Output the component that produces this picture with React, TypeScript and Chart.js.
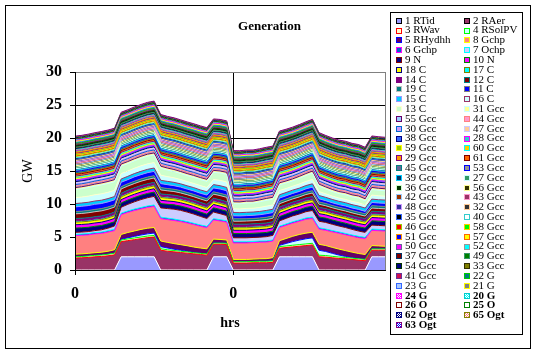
import React, { useEffect, useRef } from 'react';
import { Chart, registerables } from 'chart.js';

Chart.register(...registerables);

// ---------- data ----------
const HOURS = ['0','1','2','3','4','5','6','7','8','9','10','11','12','13','14','15','16','17','18','19','20','21','22','23',
  '0','1','2','3','4','5','6','7','8','9','10','11','12','13','14','15','16','17','18','19','20','21','22','23'];

const Y_MIN = 0;
const Y_MAX = 30;
const Y_STEP = 5;

const RTID = [0,0,0,0,0,0,0, 2,2,2,2,2,2, 0,0,0,0,0,0,0,0, 2,2,2, 0,0,0,0,0,0,0, 2,2,2,2,2,2, 0,0,0,0,0,0,0,0, 2,2,2];
const RAER = [1.8,1.85,1.9,2,2.05,2.15,2.3, 2.3,2.45,2.6,2.75,2.9,3, 3,2.85,2.75,2.65,2.55,2.45,2.35,2.25, 1.9,1.9,1.85, 1.05,1.05,1.05,1.1,1.1,1.1,1.15, 1.3,1.4,1.5,1.6,1.7,1.8, 2,1.95,1.85,1.75,1.7,1.6,1.5,1.4, 1,1,1];
const RWAV = [.2,.2,.22,.22,.22,.24,.24, .24,.25,.25,.25,.24,.24, .22,.22,.2,.2,.2,.18,.18,.18, .18,.18,.2, .2,.2,.2,.2,.22,.22,.22, .24,.24,.25,.25,.25,.25, .24,.24,.22,.22,.2,.2,.2,.2, .2,.2,.2];
const RSOLPV = [0,0,0,0,0,0,.03, .1,.18,.24,.3,.34,.35, .32,.27,.2,.14,.08,.03,0,0, 0,0,0, 0,0,0,0,0,0,.05, .2,.38,.55,.68,.78,.82, .75,.62,.46,.3,.16,.06,0,0, 0,0,0];
const RHYDHH = [.4,.4,.4,.4,.42,.45,.5, .75,.8,.82,.85,.85,.85, .85,.85,.85,.85,.85,.82,.8,.78, .6,.55,.5, .35,.35,.35,.35,.38,.4,.45, .7,.75,.8,.85,.85,.85, .9,.9,.9,.9,.88,.85,.8,.75, .5,.45,.4];
const GCHP8 = [2.8,2.8,2.8,2.85,2.85,2.9,2.9, 3,3.05,3.1,3.1,3.15,3.2, 3.4,3.45,3.5,3.5,3.45,3.4,3.3,3.2, 2.9,2.8,2.7, 2.5,2.5,2.5,2.5,2.5,2.5,2.5, 2,2,2,2,2.1,2.1, 2.3,2.3,2.35,2.4,2.4,2.4,2.4,2.4, 2.3,2.3,2.3];
const GCHP6 = [.2,.2,.2,.2,.2,.2,.2, .22,.22,.22,.22,.22,.22, .22,.22,.22,.2,.2,.2,.2,.2, .2,.2,.2, .18,.18,.18,.18,.18,.18,.18, .2,.2,.2,.2,.2,.2, .2,.2,.2,.2,.2,.2,.2,.2, .2,.2,.2];
const OCHP7 = [.3,.3,.3,.3,.35,.4,.5, .9,1,1.1,1.2,1.25,1.3, 1.4,1.45,1.5,1.5,1.45,1.4,1.3,1.2, 1,.9,.8, .6,.6,.6,.6,.6,.65,.7, .8,.85,.9,.9,.95,1, 1,1,.95,.9,.9,.85,.8,.75, .6,.6,.6];
const N9 = [.65,.65,.65,.65,.65,.65,.65, .65,.65,.65,.65,.65,.65, .65,.65,.65,.65,.65,.65,.65,.65, .65,.65,.65, .64,.64,.64,.64,.64,.64,.64, .65,.65,.65,.65,.65,.65, .65,.65,.65,.65,.65,.65,.65,.65, .65,.65,.65];
const N10 = [.5,.5,.5,.5,.5,.5,.5, .5,.5,.5,.5,.5,.5, .5,.5,.5,.5,.5,.5,.5,.5, .5,.5,.5, .5,.5,.5,.5,.5,.5,.5, .5,.5,.5,.5,.5,.5, .5,.5,.5,.5,.5,.5,.5,.5, .5,.5,.5];
const C18 = [.4,.4,.4,.4,.4,.4,.4, .42,.42,.42,.42,.42,.42, .42,.42,.42,.42,.42,.42,.42,.42, .4,.4,.4, .38,.38,.38,.38,.38,.38,.38, .4,.4,.4,.4,.4,.4, .4,.4,.4,.4,.4,.4,.4,.4, .4,.4,.4];
const C17 = [.2,.2,.2,.2,.2,.2,.2, .2,.2,.2,.2,.2,.2, .2,.2,.2,.2,.2,.2,.2,.2, .2,.2,.2, .2,.2,.2,.2,.2,.2,.2, .2,.2,.2,.2,.2,.2, .2,.2,.2,.2,.2,.2,.2,.2, .2,.2,.2];
const C14 = [.35,.35,.35,.35,.35,.35,.35, .35,.35,.35,.35,.35,.35, .35,.35,.35,.35,.35,.35,.35,.35, .35,.35,.35, .35,.35,.35,.35,.35,.35,.35, .35,.35,.35,.35,.35,.35, .35,.35,.35,.35,.35,.35,.35,.35, .35,.35,.35];
const C12 = [.71,.72,.75,.76,.77,.76,.76, .65,.64,.65,.66,.66,.66, .61,.57,.55,.52,.51,.51,.52,.53, .61,.64,.66, .45,.45,.47,.46,.49,.52,.52, .5,.49,.47,.49,.5,.55, .47,.43,.4,.4,.4,.4,.41,.37, .49,.48,.47];
const C19 = [.35,.35,.35,.35,.35,.35,.35, .35,.35,.35,.35,.35,.35, .35,.35,.35,.35,.35,.35,.35,.35, .35,.35,.35, .35,.35,.35,.35,.35,.35,.35, .35,.35,.35,.35,.35,.35, .35,.35,.35,.35,.35,.35,.35,.35, .35,.35,.35];
const C11 = [.7,.73,.74,.77,.76,.77,.75, .66,.63,.66,.65,.67,.66, .6,.58,.54,.53,.5,.52,.51,.54, .6,.65,.65, .46,.44,.47,.47,.48,.53,.51, .51,.48,.48,.48,.51,.54, .48,.42,.41,.39,.41,.39,.42,.36, .5,.47,.48];
const C15 = [.5,.5,.5,.5,.5,.5,.5, .5,.5,.5,.5,.5,.5, .5,.5,.5,.5,.5,.5,.5,.5, .5,.5,.5, .5,.5,.5,.5,.5,.5,.5, .5,.5,.5,.5,.5,.5, .5,.5,.5,.5,.5,.5,.5,.5, .5,.5,.5];
const C16 = [.89,.9,.93,.95,.97,.95,.95, .82,.81,.81,.83,.83,.83, .77,.72,.69,.65,.64,.64,.66,.66, .77,.81,.83, .56,.56,.59,.58,.61,.65,.65, .63,.61,.59,.62,.63,.68, .59,.54,.51,.5,.5,.5,.51,.46, .61,.6,.59];
const C13 = [1.24,1.26,1.3,1.31,1.35,1.34,1.31, 1.14,1.13,1.13,1.15,1.17,1.16, 1.07,1,.96,.92,.91,.91,.92,.92, 1.08,1.13,1.15, .79,.79,.82,.8,.86,.89,.89, .88,.84,.82,.87,.89,.95, .83,.74,.71,.68,.71,.69,.72,.65, .86,.84,.82];
const G31 = [.3,.3,.3,.3,.3,.3,.3, .3,.3,.3,.3,.3,.3, .3,.3,.3,.3,.3,.3,.3,.3, .3,.3,.3, .28,.28,.28,.28,.28,.28,.28, .3,.3,.3,.3,.3,.3, .3,.3,.3,.3,.3,.3,.3,.3, .3,.3,.3];
const G55 = [.2,.2,.2,.2,.2,.2,.2, .2,.2,.2,.2,.2,.2, .2,.2,.2,.2,.2,.2,.2,.2, .2,.2,.2, .19,.19,.19,.19,.19,.19,.19, .2,.2,.2,.2,.2,.2, .2,.2,.2,.2,.2,.2,.2,.2, .2,.2,.2];
const G44 = [.25,.25,.25,.25,.25,.25,.25, .25,.25,.25,.25,.25,.25, .25,.25,.25,.25,.25,.25,.25,.25, .25,.25,.25, .25,.25,.25,.25,.25,.25,.25, .25,.25,.25,.25,.25,.25, .25,.25,.25,.25,.25,.25,.25,.25, .25,.25,.25];
const G30 = [.24,.24,.24,.24,.24,.24,.24, .26,.26,.26,.26,.26,.26, .26,.26,.26,.26,.26,.26,.26,.26, .25,.25,.25, .24,.24,.24,.24,.24,.24,.24, .25,.25,.25,.25,.25,.25, .25,.25,.25,.25,.25,.25,.25,.25, .25,.25,.25];
const G47 = [.2,.2,.2,.2,.2,.2,.2, .2,.2,.2,.2,.2,.2, .2,.2,.2,.2,.2,.2,.2,.2, .2,.2,.2, .2,.2,.2,.2,.2,.2,.2, .2,.2,.2,.2,.2,.2, .2,.2,.2,.2,.2,.2,.2,.2, .2,.2,.2];
const G38 = [.25,.25,.25,.25,.25,.25,.25, .27,.27,.27,.27,.27,.27, .25,.25,.25,.25,.25,.25,.25,.25, .25,.25,.25, .25,.25,.25,.25,.25,.25,.25, .27,.27,.27,.27,.27,.27, .25,.25,.25,.25,.25,.25,.25,.25, .25,.25,.25];
const G28 = [.2,.2,.2,.2,.2,.2,.2, .2,.2,.2,.2,.2,.2, .2,.2,.2,.2,.2,.2,.2,.2, .2,.2,.2, .2,.2,.2,.2,.2,.2,.2, .2,.2,.2,.2,.2,.2, .2,.2,.2,.2,.2,.2,.2,.2, .2,.2,.2];
const G59 = [.2,.2,.2,.2,.2,.2,.2, .2,.2,.2,.2,.2,.2, .22,.22,.22,.22,.22,.22,.22,.22, .2,.2,.2, .2,.2,.2,.2,.2,.2,.2, .2,.2,.2,.2,.2,.2, .22,.22,.22,.22,.22,.22,.22,.22, .2,.2,.2];
const G60 = [.2,.2,.2,.2,.2,.2,.2, .2,.2,.2,.2,.2,.2, .2,.2,.2,.2,.2,.2,.2,.2, .2,.2,.2, .2,.2,.2,.2,.2,.2,.2, .2,.2,.2,.2,.2,.2, .2,.2,.2,.2,.2,.2,.2,.2, .2,.2,.2];
const G29 = [.25,.25,.25,.25,.25,.25,.25, .25,.25,.25,.25,.25,.25, .25,.25,.25,.25,.25,.25,.25,.25, .25,.25,.25, .25,.25,.25,.25,.25,.25,.25, .25,.25,.25,.25,.25,.25, .25,.25,.25,.25,.25,.25,.25,.25, .25,.25,.25];
const G61 = [.25,.25,.25,.25,.25,.25,.25, .25,.25,.25,.25,.25,.25, .25,.25,.25,.25,.25,.25,.25,.25, .25,.25,.25, .22,.22,.22,.22,.22,.22,.22, .25,.25,.25,.25,.25,.25, .25,.25,.25,.25,.25,.25,.25,.25, .25,.25,.25];
const G45 = [.2,.2,.2,.2,.2,.2,.2, .2,.2,.2,.2,.2,.2, .2,.2,.2,.2,.2,.2,.2,.2, .2,.2,.2, .2,.2,.2,.2,.2,.2,.2, .2,.2,.2,.2,.2,.2, .2,.2,.2,.2,.2,.2,.2,.2, .2,.2,.2];
const G53 = [.2,.2,.2,.2,.2,.2,.2, .2,.2,.2,.2,.2,.2, .2,.2,.2,.2,.2,.2,.2,.2, .2,.2,.2, .2,.2,.2,.2,.2,.2,.2, .2,.2,.2,.2,.2,.2, .2,.2,.2,.2,.2,.2,.2,.2, .2,.2,.2];
const G39 = [.2,.2,.2,.2,.2,.2,.2, .22,.22,.22,.22,.22,.22, .2,.2,.2,.2,.2,.2,.2,.2, .2,.2,.2, .2,.2,.2,.2,.2,.2,.2, .22,.22,.22,.22,.22,.22, .2,.2,.2,.2,.2,.2,.2,.2, .2,.2,.2];
const G27 = [.25,.25,.25,.25,.25,.25,.25, .25,.25,.25,.25,.25,.25, .25,.25,.25,.25,.25,.25,.25,.25, .25,.25,.25, .25,.25,.25,.25,.25,.25,.25, .25,.25,.25,.25,.25,.25, .25,.25,.25,.25,.25,.25,.25,.25, .25,.25,.25];
const G36 = [.2,.2,.2,.2,.2,.2,.2, .2,.2,.2,.2,.2,.2, .2,.2,.2,.2,.2,.2,.2,.2, .2,.2,.2, .2,.2,.2,.2,.2,.2,.2, .2,.2,.2,.2,.2,.2, .2,.2,.2,.2,.2,.2,.2,.2, .2,.2,.2];
const G56 = [.2,.2,.2,.2,.2,.2,.2, .2,.2,.2,.2,.2,.2, .2,.2,.2,.2,.2,.2,.2,.2, .2,.2,.2, .2,.2,.2,.2,.2,.2,.2, .2,.2,.2,.2,.2,.2, .2,.2,.2,.2,.2,.2,.2,.2, .2,.2,.2];
const G42 = [.2,.2,.2,.2,.2,.2,.2, .2,.2,.2,.2,.2,.2, .2,.2,.2,.2,.2,.2,.2,.2, .2,.2,.2, .2,.2,.2,.2,.2,.2,.2, .2,.2,.2,.2,.2,.2, .18,.18,.18,.18,.18,.18,.18,.18, .2,.2,.2];
const G43 = [.2,.2,.2,.2,.2,.2,.2, .2,.2,.2,.2,.2,.2, .2,.2,.2,.2,.2,.2,.2,.2, .2,.2,.2, .2,.2,.2,.2,.2,.2,.2, .2,.2,.2,.2,.2,.2, .2,.2,.2,.2,.2,.2,.2,.2, .2,.2,.2];
const G48 = [.2,.2,.2,.2,.2,.2,.2, .2,.2,.2,.2,.2,.2, .2,.2,.2,.2,.2,.2,.2,.2, .2,.2,.2, .2,.2,.2,.2,.2,.2,.2, .2,.2,.2,.2,.2,.2, .2,.2,.2,.2,.2,.2,.2,.2, .2,.2,.2];
const G32 = [.2,.2,.2,.2,.2,.2,.2, .2,.2,.2,.2,.2,.2, .2,.2,.2,.2,.2,.2,.2,.2, .2,.2,.2, .2,.2,.2,.2,.2,.2,.2, .2,.2,.2,.2,.2,.2, .2,.2,.2,.2,.2,.2,.2,.2, .2,.2,.2];
const G35 = [.2,.2,.2,.2,.2,.2,.2, .2,.2,.2,.2,.2,.2, .2,.2,.2,.2,.2,.2,.2,.2, .2,.2,.2, .2,.2,.2,.2,.2,.2,.2, .2,.2,.2,.2,.2,.2, .2,.2,.2,.2,.2,.2,.2,.2, .2,.2,.2];
const G40 = [.2,.2,.2,.2,.2,.2,.2, .2,.2,.2,.2,.2,.2, .2,.2,.2,.2,.2,.2,.2,.2, .2,.2,.2, .2,.2,.2,.2,.2,.2,.2, .2,.2,.2,.2,.2,.2, .2,.2,.2,.2,.2,.2,.2,.2, .2,.2,.2];
const G46 = [.2,.2,.2,.2,.2,.2,.2, .2,.2,.2,.2,.2,.2, .2,.2,.2,.2,.2,.2,.2,.2, .2,.2,.2, .2,.2,.2,.2,.2,.2,.2, .2,.2,.2,.2,.2,.2, .2,.2,.2,.2,.2,.2,.2,.2, .2,.2,.2];
const G58 = [.2,.2,.2,.2,.2,.2,.2, .2,.2,.2,.2,.2,.2, .2,.2,.2,.2,.2,.2,.2,.2, .2,.2,.2, .2,.2,.2,.2,.2,.2,.2, .2,.2,.2,.2,.2,.2, .2,.2,.2,.2,.2,.2,.2,.2, .2,.2,.2];
const G51 = [.2,.2,.2,.2,.2,.2,.2, .2,.2,.2,.2,.2,.2, .2,.2,.2,.2,.2,.2,.2,.2, .2,.2,.2, .2,.2,.2,.2,.2,.2,.2, .2,.2,.2,.2,.2,.2, .2,.2,.2,.2,.2,.2,.2,.2, .2,.2,.2];
const G57 = [.2,.2,.2,.2,.2,.2,.2, .2,.2,.2,.2,.2,.2, .2,.2,.2,.2,.2,.2,.2,.2, .2,.2,.2, .2,.2,.2,.2,.2,.2,.2, .2,.2,.2,.2,.2,.2, .2,.2,.2,.2,.2,.2,.2,.2, .2,.2,.2];
const G50 = [.2,.2,.2,.2,.2,.2,.2, .2,.2,.2,.2,.2,.2, .2,.2,.2,.2,.2,.2,.2,.2, .2,.2,.2, .2,.2,.2,.2,.2,.2,.2, .2,.2,.2,.2,.2,.2, .2,.2,.2,.2,.2,.2,.2,.2, .2,.2,.2];
const G52 = [.2,.2,.2,.2,.2,.2,.2, .2,.2,.2,.2,.2,.2, .2,.2,.2,.2,.2,.2,.2,.2, .2,.2,.2, .2,.2,.2,.2,.2,.2,.2, .2,.2,.2,.2,.2,.2, .2,.2,.2,.2,.2,.2,.2,.2, .2,.2,.2];
const G37 = [.2,.2,.2,.2,.2,.2,.2, .2,.2,.2,.2,.2,.2, .2,.2,.2,.2,.2,.2,.2,.2, .2,.2,.2, .2,.2,.2,.2,.2,.2,.2, .2,.2,.2,.2,.2,.2, .2,.2,.2,.2,.2,.2,.2,.2, .2,.2,.2];
const G49 = [.15,.15,.15,.15,.15,.15,.15, .15,.15,.15,.15,.15,.15, .15,.15,.15,.15,.15,.15,.15,.15, .15,.15,.15, .15,.15,.15,.15,.15,.15,.15, .15,.15,.15,.15,.15,.15, .15,.15,.15,.15,.15,.15,.15,.15, .15,.15,.15];
const G54 = [.15,.15,.15,.15,.15,.15,.15, .15,.15,.15,.15,.15,.15, .15,.15,.15,.15,.15,.15,.15,.15, .15,.15,.15, .15,.15,.15,.15,.15,.15,.15, .15,.15,.15,.15,.15,.15, .15,.15,.15,.15,.15,.15,.15,.15, .15,.15,.15];
const G33 = [.15,.15,.15,.15,.15,.15,.15, .15,.15,.15,.15,.15,.15, .15,.15,.15,.15,.15,.15,.15,.15, .15,.15,.15, .15,.15,.15,.15,.15,.15,.15, .15,.15,.15,.15,.15,.15, .15,.15,.15,.15,.15,.15,.15,.15, .15,.15,.15];
const G41 = [.15,.15,.15,.15,.15,.15,.15, .15,.15,.15,.15,.15,.15, .15,.15,.15,.15,.15,.15,.15,.15, .15,.15,.15, .15,.15,.15,.15,.15,.15,.15, .15,.15,.15,.15,.15,.15, .15,.15,.15,.15,.15,.15,.15,.15, .15,.15,.15];
const G22 = [.15,.15,.15,.15,.15,.15,.15, .15,.15,.15,.15,.15,.15, .15,.15,.15,.15,.15,.15,.15,.15, .15,.15,.15, .15,.15,.15,.15,.15,.15,.15, .15,.15,.15,.15,.15,.15, .15,.15,.15,.15,.15,.15,.15,.15, .15,.15,.15];
const G23 = [.15,.15,.15,.15,.15,.15,.15, .15,.15,.15,.15,.15,.15, .15,.15,.15,.15,.15,.15,.15,.15, .15,.15,.15, .15,.15,.15,.15,.15,.15,.15, .15,.15,.15,.15,.15,.15, .15,.15,.15,.15,.15,.15,.15,.15, .15,.15,.15];
const G21 = [.15,.15,.15,.15,.15,.15,.15, .15,.15,.15,.15,.15,.15, .15,.15,.15,.15,.15,.15,.15,.15, .15,.15,.15, .15,.15,.15,.15,.15,.15,.15, .15,.15,.15,.15,.15,.15, .15,.15,.15,.15,.15,.15,.15,.15, .15,.15,.15];
const G24 = [.1,.1,.1,.1,.1,.1,.1, .1,.1,.1,.1,.1,.1, .1,.1,.1,.1,.1,.1,.1,.1, .1,.1,.1, .1,.1,.1,.1,.1,.1,.1, .1,.1,.1,.1,.1,.1, .1,.1,.1,.1,.1,.1,.1,.1, .1,.1,.1];
const G20 = [.1,.1,.1,.1,.1,.1,.1, .1,.1,.1,.1,.1,.1, .1,.1,.1,.1,.1,.1,.1,.1, .1,.1,.1, .1,.1,.1,.1,.1,.1,.1, .1,.1,.1,.1,.1,.1, .1,.1,.1,.1,.1,.1,.1,.1, .1,.1,.1];
const O26 = [.1,.1,.1,.1,.1,.1,.1, .1,.1,.1,.1,.1,.1, .1,.1,.1,.1,.1,.1,.1,.1, .1,.1,.1, .1,.1,.1,.1,.1,.1,.1, .1,.1,.1,.1,.1,.1, .1,.1,.1,.1,.1,.1,.1,.1, .1,.1,.1];
const O25 = [.1,.1,.1,.1,.1,.1,.1, .1,.1,.1,.1,.1,.1, .1,.1,.1,.1,.1,.1,.1,.1, .1,.1,.1, .1,.1,.1,.1,.1,.1,.1, .1,.1,.1,.1,.1,.1, .1,.1,.1,.1,.1,.1,.1,.1, .1,.1,.1];
const OGT62 = [.08,.08,.08,.08,.08,.08,.08, .08,.08,.08,.08,.08,.08, .08,.08,.08,.08,.08,.08,.08,.08, .08,.08,.08, .08,.08,.08,.08,.08,.08,.08, .08,.08,.08,.08,.08,.08, .08,.08,.08,.08,.08,.08,.08,.08, .08,.08,.08];
const OGT65 = [.08,.08,.08,.08,.08,.08,.08, .08,.08,.08,.08,.08,.08, .08,.08,.08,.08,.08,.08,.08,.08, .08,.08,.08, .08,.08,.08,.08,.08,.08,.08, .08,.08,.08,.08,.08,.08, .08,.08,.08,.08,.08,.08,.08,.08, .08,.08,.08];
const OGT63 = [.09,.09,.09,.09,.09,.09,.09, .09,.09,.09,.09,.09,.09, .09,.09,.09,.09,.09,.09,.09,.09, .09,.09,.09, .09,.09,.09,.09,.09,.09,.09, .09,.09,.09,.09,.09,.09, .09,.09,.09,.09,.09,.09,.09,.09, .09,.09,.09];

const SERIES_NAMES = ['1 RTid','2 RAer','3 RWav','4 RSolPV','5 RHydhh','8 Gchp','6 Gchp','7 Ochp','9 N','10 N',
  '18 C','17 C','14 C','12 C','19 C','11 C','15 C','16 C','13 C',
  '31 Gcc','55 Gcc','44 Gcc','30 Gcc','47 Gcc','38 Gcc','28 Gcc','59 Gcc','60 Gcc','29 Gcc','61 Gcc','45 Gcc','53 Gcc',
  '39 Gcc','27 Gcc','36 Gcc','56 Gcc','42 Gcc','43 Gcc','48 Gcc','32 Gcc','35 Gcc','40 Gcc','46 Gcc','58 Gcc','51 Gcc',
  '57 Gcc','50 Gcc','52 Gcc','37 Gcc','49 Gcc','54 Gcc','33 Gcc','41 Gcc',
  '22 G','23 G','21 G','24 G','20 G','26 O','25 O','62 Ogt','65 Ogt','63 Ogt'];

const SERIES_DATA = [RTID, RAER, RWAV, RSOLPV, RHYDHH, GCHP8, GCHP6, OCHP7, N9, N10,
  C18, C17, C14, C12, C19, C11, C15, C16, C13,
  G31, G55, G44, G30, G47, G38, G28, G59, G60, G29, G61, G45, G53,
  G39, G27, G36, G56, G42, G43, G48, G32, G35, G40, G46, G58, G51,
  G57, G50, G52, G37, G49, G54, G33, G41,
  G22, G23, G21, G24, G20, O26, O25, OGT62, OGT65, OGT63];

// ---------- styles ----------
const FILLS = ['#9999FF','#993366','#FFFFCC','#CCFFFF','#660066','#FF8080','#0066CC','#CCCCFF','#000080','#FF00FF',
  '#FFFF00','#00FFFF','#800080','#800000','#008080','#0000FF','#00CCFF','#CCFFFF','#CCFFCC',
  '#FFFF99','#99CCFF','#FF99CC','#CC99FF','#FFCC99','#3366FF','#33CCCC','#99CC00','#FFCC00','#FF9900','#FF6600','#666699','#969696',
  '#003366','#339966','#003300','#333300','#993300','#993366','#333399','#333333','#000000','#FFFFFF','#FF0000','#00FF00','#0000FF',
  '#FFFF00','#FF00FF','#00FFFF','#800000','#008000','#000080','#808000','#D01050',
  '#008080','#A8C8FF','#808080','#FF00FF','#00FFFF','#FFFFFF','#FFFFFF','#000080','#FF8080','#0000FF'];
const EDGES = ['#000000','#FFFFFF','#FF0000','#00FF00','#0000FF','#FFFF00','#FF00FF','#00FFFF','#800000','#008000',
  '#000080','#808000','#800080','#008080','#C0C0C0','#808080','#9999FF','#993366','#FFFFCC',
  '#CCFFFF','#660066','#FF8080','#0066CC','#CCCCFF','#000080','#FF00FF','#FFFF00','#00FFFF','#800080','#800000','#008080','#0000FF',
  '#00CCFF','#CCFFFF','#CCFFCC','#FFFF99','#99CCFF','#FF99CC','#CC99FF','#FFCC99','#3366FF','#33CCCC','#99CC00','#FFCC00','#FF9900',
  '#FF6600','#666699','#969696','#003366','#339966','#003300','#333300','#663399',
  '#00CC00','#3366FF','#FFFF00','#FF00FF','#00CCCC','#800000','#008000','#000080','#808000','#800080'];
const PATTERNED = [56, 57, 60, 61, 62];
const BOLD_FROM = 56;

const SERIF = '"Liberation Serif", "Times New Roman", serif';

function checker(color: string): CanvasPattern | string {
  const c = document.createElement('canvas');
  c.width = 2; c.height = 2;
  const g = c.getContext('2d');
  if (!g) return color;
  g.fillStyle = '#FFFFFF'; g.fillRect(0, 0, 2, 2);
  g.fillStyle = color; g.fillRect(0, 0, 1, 1); g.fillRect(1, 1, 1, 1);
  return g.createPattern(c, 'repeat') || color;
}

const framePlugin = {
  id: 'excelFrame',
  afterDatasetsDraw(chart: any) {
    const { ctx, chartArea: a } = chart;
    ctx.save();
    ctx.strokeStyle = '#000'; ctx.lineWidth = 1;
    const x = Math.round(a.left - 0.5) + 0.5;
    const y = Math.round(a.bottom - 0.5) + 0.5;
    ctx.beginPath();
    ctx.moveTo(x, a.top); ctx.lineTo(x, y);
    ctx.moveTo(a.left, y); ctx.lineTo(a.right, y);
    ctx.stroke();
    ctx.restore();
  },
  afterDraw(chart: any) {
    const { ctx } = chart;
    ctx.save();
    ctx.strokeStyle = '#000'; ctx.lineWidth = 1;
    ctx.strokeRect(5.5, 5.5, 525, 343);
    ctx.strokeRect(390.5, 12.5, 132, 322);
    ctx.textBaseline = 'middle';
    ctx.textAlign = 'left';
    chart.data.datasets.forEach((ds: any, k: number) => {
      const row = Math.floor(k / 2);
      const col = k % 2;
      const cy = 20.7 + row * 9.82;
      const bx = col === 0 ? 396 : 464;
      const by = Math.round(cy - 3);
      ctx.fillStyle = ds.backgroundColor;
      ctx.fillRect(bx, by, 6, 6);
      ctx.strokeStyle = EDGES[k] === '#FFFFFF' ? '#000' : EDGES[k];
      ctx.strokeRect(bx + 0.5, by + 0.5, 5, 5);
      ctx.fillStyle = '#000';
      ctx.font = (k >= BOLD_FROM ? 'bold ' : '') + '11px ' + SERIF;
      ctx.fillText(ds.label, bx + 9, cy);
    });
    ctx.restore();
  },
};

export default function App() {
  const ref = useRef<HTMLCanvasElement>(null);
  useEffect(() => {
    document.body.style.margin = '0';
    const canvas = ref.current;
    if (!canvas) return;
    const n = SERIES_DATA.length;
    const datasets = SERIES_DATA.map((data, k) => ({
      label: SERIES_NAMES[k],
      data,
      backgroundColor: PATTERNED.includes(k) ? checker(FILLS[k]) : FILLS[k],
      borderColor: k < n - 1 ? EDGES[k + 1] : EDGES[k],
      borderWidth: 1,
      fill: k === 0 ? 'origin' : '-1',
      pointRadius: 0,
      pointHoverRadius: 0,
      tension: 0,
    }));
    const chart = new Chart(canvas, {
      type: 'line',
      data: { labels: HOURS, datasets },
      plugins: [framePlugin],
      options: {
        animation: false,
        responsive: false,
        devicePixelRatio: 1,
        events: [],
        layout: { padding: { left: 10, right: 9, top: 4, bottom: 10 } },
        plugins: {
          legend: { display: false },
          tooltip: { enabled: false },
          title: {
            display: true,
            text: 'Generation',
            color: '#000',
            font: { family: SERIF, size: 13, weight: 'bold' },
            padding: { top: 15.2, bottom: 37.2 },
          },
        },
        scales: {
          x: {
            type: 'category',
            offset: false,
            afterFit: (s: any) => { s.height = 75; },
            border: { color: '#000', width: 1 },
            grid: {
              color: (c: any) => (c.index === 24 ? '#000' : c.index === 47 ? '#808080' : 'rgba(0,0,0,0)'),
              tickColor: (c: any) => (c.index % 24 === 0 ? '#000' : 'rgba(0,0,0,0)'),
              tickLength: 5,
            },
            ticks: {
              autoSkip: false,
              maxRotation: 0,
              minRotation: 0,
              padding: 9.4,
              color: '#000',
              font: { family: SERIF, size: 16, weight: 'bold' },
              callback: (_v: any, idx: number) => (idx % 24 === 0 ? HOURS[idx] : ''),
            },
            title: {
              display: true,
              text: 'hrs',
              color: '#000',
              font: { family: SERIF, size: 14, weight: 'bold' },
              padding: { top: 0, bottom: 13.1 },
            },
          },
          y: {
            stacked: true,
            min: Y_MIN,
            max: Y_MAX,
            afterFit: (s: any) => { s.width = 65; },
            border: { color: '#000', width: 1 },
            grid: {
              color: (c: any) => (c.tick && c.tick.value === Y_MAX ? '#808080' : '#000'),
              tickColor: '#000',
              tickLength: 5,
            },
            ticks: {
              stepSize: Y_STEP,
              padding: 8,
              color: '#000',
              font: { family: SERIF, size: 16, weight: 'bold' },
            },
            title: {
              display: true,
              text: 'GW',
              color: '#000',
              font: { family: SERIF, size: 14 },
              padding: { top: 9.6, bottom: 0 },
            },
          },
          legendSpace: {
            type: 'linear',
            position: 'right',
            display: true,
            afterFit: (s: any) => { s.width = 144; },
            grid: { display: false, drawTicks: false },
            border: { display: false },
            ticks: { display: false },
          },
        },
      } as any,
    });
    return () => chart.destroy();
  }, []);
  return (
    <canvas
      ref={ref}
      width={538}
      height={355}
      style={{ display: 'block', width: '538px', height: '355px' }}
    />
  );
}
